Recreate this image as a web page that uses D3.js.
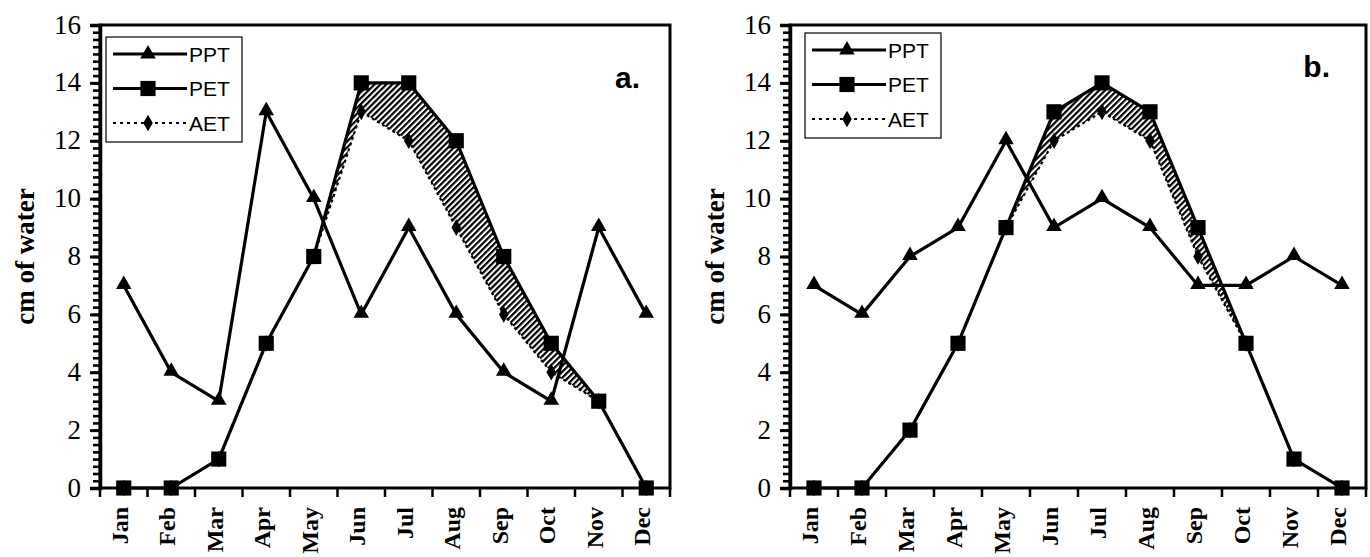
<!DOCTYPE html>
<html>
<head>
<meta charset="utf-8">
<script src="https://cdn.jsdelivr.net/npm/d3@7"></script>
<style>
  body { margin: 0; background: #fff; }
  svg { display: block; }
</style>
</head>
<body>
<svg width="1370" height="557"></svg>
<script>
// months on the x axis
const months = ['Jan', 'Feb', 'Mar', 'Apr', 'May', 'Jun', 'Jul', 'Aug', 'Sep', 'Oct', 'Nov', 'Dec'];
const yTicks = [0, 2, 4, 6, 8, 10, 12, 14, 16];

// panel a
const pptA = [7, 4, 3, 13, 10, 6, 9, 6, 4, 3, 9, 6];
const petA = [0, 0, 1, 5, 8, 14, 14, 12, 8, 5, 3, 0];
const aetA = [0, 0, 1, 5, 8, 13, 12, 9, 6, 4, 3, 0];

// panel b
const pptB = [7, 6, 8, 9, 12, 9, 10, 9, 7, 7, 8, 7];
const petB = [0, 0, 2, 5, 9, 13, 14, 13, 9, 5, 1, 0];
const aetB = [0, 0, 2, 5, 9, 12, 13, 12, 8, 5, 1, 0];

const legendNames = ['PPT', 'PET', 'AET'];

const svg = d3.select('svg');
const serif = '"Liberation Serif", "Times New Roman", serif';
const sans = '"Liberation Sans", Arial, sans-serif';

// hatch for the PET - AET gap
const defs = svg.append('defs');
defs.append('pattern')
  .attr('id', 'hatch')
  .attr('patternUnits', 'userSpaceOnUse')
  .attr('width', 4.2)
  .attr('height', 4.2)
  .attr('patternTransform', 'rotate(45)')
  .append('rect')
  .attr('x', 0).attr('y', 0)
  .attr('width', 2.2).attr('height', 4.2)
  .attr('fill', '#000');

function drawPanel(opts) {
  const x = d3.scaleBand().domain(months).range([opts.left, opts.right]);
  const y = d3.scaleLinear().domain([0, 16]).range([opts.bottom, opts.top]);
  const g = svg.append('g');
  const cx = (d, i) => x(months[i]) + x.bandwidth() / 2;

  // hatched area between PET and AET
  const area = d3.area()
    .x((d, i) => cx(d, i))
    .y0((d, i) => y(opts.aet[i]))
    .y1(d => y(d));
  g.append('path')
    .attr('d', area(opts.pet))
    .attr('fill', 'url(#hatch)');

  // frame
  g.append('rect')
    .attr('x', opts.left)
    .attr('y', opts.top)
    .attr('width', opts.right - opts.left)
    .attr('height', opts.bottom - opts.top)
    .attr('fill', 'none')
    .attr('stroke', '#000')
    .attr('stroke-width', 3);

  // y axis, major + minor ticks
  const yAxis = g.append('g').attr('transform', `translate(${opts.left},0)`)
    .call(d3.axisLeft(y).tickValues(yTicks).tickSize(10).tickFormat(d3.format('d')));
  const minor = g.append('g').attr('transform', `translate(${opts.left},0)`)
    .call(d3.axisLeft(y).tickValues(d3.range(0, 16.01, 0.25)).tickSize(7).tickFormat(''));
  minor.select('.domain').remove();
  minor.selectAll('.tick line').attr('stroke', '#000').attr('stroke-width', 2.6);
  yAxis.select('.domain').attr('stroke', '#000').attr('stroke-width', 3.5);
  yAxis.selectAll('.tick line').attr('stroke', '#000').attr('stroke-width', 3);
  yAxis.selectAll('text')
    .attr('font-family', serif)
    .attr('font-size', 27)
    .attr('x', -19)
    .attr('dy', '0.3em')
    .attr('fill', '#000');

  // x axis: ticks on band edges, labels at centres
  const edges = d3.range(13).map(i => opts.left + i * x.bandwidth());
  g.selectAll('.xtick').data(edges).enter().append('line')
    .attr('x1', d => d).attr('x2', d => d)
    .attr('y1', opts.bottom).attr('y2', opts.bottom + 9)
    .attr('stroke', '#000').attr('stroke-width', 2.5);
  g.selectAll('.xlab').data(months).enter().append('text')
    .attr('transform', d => `translate(${x(d) + x.bandwidth() / 2 + 4},${opts.bottom + 19}) rotate(-90)`)
    .attr('text-anchor', 'end')
    .attr('font-family', serif)
    .attr('font-weight', 'bold')
    .attr('font-size', 24)
    .text(d => d);

  // y title
  g.append('text')
    .attr('transform', `translate(${opts.left - 66},${(opts.top + opts.bottom) / 2}) rotate(-90)`)
    .attr('text-anchor', 'middle')
    .attr('font-family', serif)
    .attr('font-weight', 'bold')
    .attr('font-size', 27)
    .text('cm of water');

  const line = d3.line().x(cx).y(d => y(d));
  g.append('path').attr('d', line(opts.aet))
    .attr('fill', 'none').attr('stroke', '#000')
    .attr('stroke-width', 2.2).attr('stroke-dasharray', '3,3');
  g.append('path').attr('d', line(opts.ppt))
    .attr('fill', 'none').attr('stroke', '#000').attr('stroke-width', 3.2);
  g.append('path').attr('d', line(opts.pet))
    .attr('fill', 'none').attr('stroke', '#000').attr('stroke-width', 3.2);

  const tri = d3.symbol(d3.symbolTriangle, 105);
  const sq = d3.symbol(d3.symbolSquare, 230);
  const dia = d3.symbol(d3.symbolDiamond, 80);
  g.selectAll('.aet').data(opts.aet).enter().append('path')
    .attr('d', dia).attr('transform', (d, i) => `translate(${cx(d, i)},${y(d)})`);
  g.selectAll('.ppt').data(opts.ppt).enter().append('path')
    .attr('d', tri).attr('transform', (d, i) => `translate(${cx(d, i)},${y(d) - 1})`);
  g.selectAll('.pet').data(opts.pet).enter().append('path')
    .attr('d', sq).attr('transform', (d, i) => `translate(${cx(d, i)},${y(d)})`);

  // legend
  const lg = g.append('g').attr('transform', `translate(${opts.legX},${opts.legY})`);
  lg.append('rect').attr('width', 136).attr('height', 105)
    .attr('fill', '#fff').attr('stroke', '#000').attr('stroke-width', 1.2);
  const symbols = [tri, sq, dia];
  legendNames.forEach((name, i) => {
    const ly = 17 + i * 34.5;
    lg.append('line').attr('x1', 7).attr('x2', 81).attr('y1', ly).attr('y2', ly)
      .attr('stroke', '#000')
      .attr('stroke-width', i === 2 ? 2.2 : 3.2)
      .attr('stroke-dasharray', i === 2 ? '3,4' : null);
    lg.append('path').attr('d', symbols[i]).attr('transform', `translate(${42},${ly})`);
    lg.append('text').attr('x', 83).attr('y', ly + 7.5)
      .attr('font-family', sans).attr('font-size', 21).text(name);
  });

  g.append('text')
    .attr('x', opts.right - opts.tagGap).attr('y', opts.tagY)
    .attr('text-anchor', 'end')
    .attr('font-family', sans).attr('font-weight', 'bold').attr('font-size', 30)
    .text(opts.tag);
}

drawPanel({ left: 100, right: 670, top: 25, bottom: 488, ppt: pptA, pet: petA, aet: aetA,
  legX: 106, legY: 37, tag: 'a.', tagY: 88, tagGap: 30 });
drawPanel({ left: 790, right: 1366, top: 25, bottom: 488, ppt: pptB, pet: petB, aet: aetB,
  legX: 805, legY: 33, tag: 'b.', tagY: 77, tagGap: 36 });
</script>
</body>
</html>
